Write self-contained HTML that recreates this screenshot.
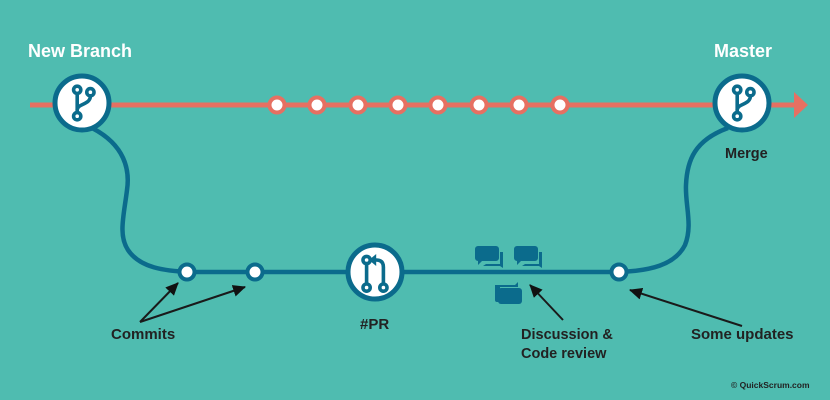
<!DOCTYPE html>
<html><head><meta charset="utf-8"><style>
html,body{margin:0;padding:0;background:#4fbcb0;}
svg{display:block}
text{font-family:"Liberation Sans",sans-serif;font-weight:bold;}
</style></head><body>
<svg width="830" height="400" viewBox="0 0 830 400">
<rect width="830" height="400" fill="#4fbcb0"/>
<line x1="30" y1="105" x2="796" y2="105" stroke="#e67062" stroke-width="5"/>
<polygon points="794,92 808,105 794,118" fill="#e67062"/>
<g fill="#fff" stroke="#e67062" stroke-width="4">
<circle cx="277" cy="105" r="7.5"/><circle cx="317" cy="105" r="7.5"/><circle cx="358" cy="105" r="7.5"/><circle cx="398" cy="105" r="7.5"/>
<circle cx="438" cy="105" r="7.5"/><circle cx="479" cy="105" r="7.5"/><circle cx="519" cy="105" r="7.5"/><circle cx="560" cy="105" r="7.5"/>
</g>
<g fill="none" stroke="#0b6b8c" stroke-width="4.5">
<path d="M92,128 C125,145 130,170 127,190 C124,215 118,235 128,250 C140,268 165,271 190,272"/>
<line x1="185" y1="272" x2="620" y2="272"/>
<path d="M618,272 C650,271 675,265 685,245 C693,225 685,205 686,185 C687,160 695,140 728,128"/>
</g>
<g fill="#fff" stroke="#0b6b8c" stroke-width="4">
<circle cx="187" cy="272" r="7.5"/><circle cx="255" cy="272" r="7.5"/><circle cx="619" cy="272" r="7.5"/>
</g>
<g fill="#fff" stroke="#0b6b8c" stroke-width="5">
<circle cx="82" cy="103" r="27"/>
<circle cx="742" cy="103" r="27"/>
<circle cx="375" cy="272" r="27"/>
</g>
<g fill="none" stroke="#0b6b8c" stroke-width="3">
<g transform="translate(82,103) scale(1.2)">
<line x1="-4" y1="-7" x2="-4" y2="7"/><path d="M7,-6 C7,2 -4,0 -4,6"/>
<circle cx="-4" cy="-11" r="3" fill="#fff"/><circle cx="7" cy="-9" r="3" fill="#fff"/><circle cx="-4" cy="11" r="3" fill="#fff"/>
</g>
<g transform="translate(742,103) scale(1.2)">
<line x1="-4" y1="-7" x2="-4" y2="7"/><path d="M7,-6 C7,2 -4,0 -4,6"/>
<circle cx="-4" cy="-11" r="3" fill="#fff"/><circle cx="7" cy="-9" r="3" fill="#fff"/><circle cx="-4" cy="11" r="3" fill="#fff"/>
</g>
<g transform="translate(375,272) scale(1.2)">
<line x1="-7" y1="-7" x2="-7" y2="10"/>
<path d="M7,10 V-4 Q7,-10 1,-10 H-2"/>
<circle cx="-7" cy="-10" r="3" fill="#fff"/><circle cx="-7" cy="13" r="3" fill="#fff"/><circle cx="7" cy="13" r="3" fill="#fff"/>
</g>
</g>
<polygon points="-5,-10 1,-15 1,-5" fill="#0b6b8c" transform="translate(375,272) scale(1.2)"/>
<g fill="#0b6b8c">
<path d="M477,246 h19 a3,3 0 0 1 3,3 v9 a3,3 0 0 1 -3,3 h-14 l-4,4 v-4 a3,3 0 0 1 -3,-3 v-9 a3,3 0 0 1 3,-3z"/>
<path d="M500,252 v12 h-14 l-3,2 h17 l3,2 v-16z"/>
<path d="M516,246 h19 a3,3 0 0 1 3,3 v9 a3,3 0 0 1 -3,3 h-14 l-4,4 v-4 a3,3 0 0 1 -3,-3 v-9 a3,3 0 0 1 3,-3z"/>
<path d="M539,252 v12 h-14 l-3,2 h17 l3,2 v-16z"/>
<rect x="498" y="288" width="24" height="16" rx="3"/>
<path d="M495,285 h20 l3,-3 v5 h-18 v15 h-3 a2,2 0 0 1 -2,-2z"/>
</g>
<defs><marker id="b" markerWidth="14" markerHeight="12" refX="12" refY="6" orient="auto" markerUnits="userSpaceOnUse"><path d="M0,0 L13,6 L0,12z" fill="#111"/></marker></defs>
<g stroke="#1a1a1a" stroke-width="2" fill="none">
<line x1="140" y1="322" x2="178" y2="283" marker-end="url(#b)"/>
<line x1="140" y1="322" x2="245" y2="287" marker-end="url(#b)"/>
<line x1="563" y1="320" x2="530" y2="285" marker-end="url(#b)"/>
<line x1="742" y1="326" x2="630" y2="290" marker-end="url(#b)"/>
</g>
<text x="28" y="57" font-size="18" fill="#fff">New Branch</text>
<text x="714" y="57" font-size="18" fill="#fff">Master</text>
<text x="725" y="158" font-size="14.5" fill="#222">Merge</text>
<text x="111" y="339" font-size="15" fill="#222">Commits</text>
<text x="360" y="329" font-size="15" fill="#222">#PR</text>
<text x="521" y="339" font-size="14.5" fill="#222">Discussion &amp;</text>
<text x="521" y="358" font-size="14.5" fill="#222">Code review</text>
<text x="691" y="339" font-size="15" fill="#222">Some updates</text>
<text x="731" y="388" font-size="8.5" fill="#222" font-weight="normal">© QuickScrum.com</text>
</svg>
</body></html>
